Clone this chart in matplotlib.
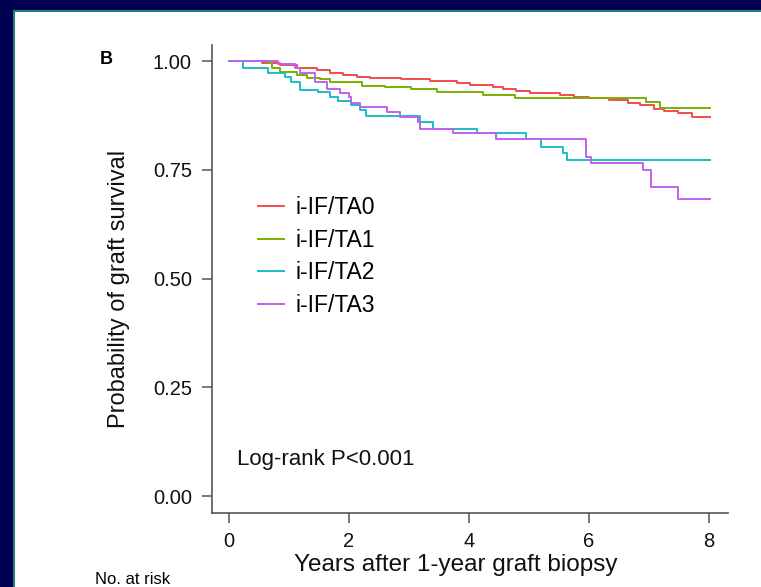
import matplotlib
matplotlib.use("Agg")
import matplotlib.pyplot as plt
from matplotlib.patches import Rectangle

# Kaplan-Meier step points (time in years, survival)
t_ta0 = [0, 0.55, 0.85, 1.13, 1.46, 1.68, 1.90, 2.13, 2.35, 2.86, 3.35, 3.80, 4.02, 4.41,
         4.57, 4.79, 5.02, 5.52, 5.75, 6.00, 6.33, 6.65, 6.85, 7.08, 7.25, 7.48, 7.72, 8.02]
s_ta0 = [1.000, 0.996, 0.991, 0.985, 0.979, 0.973, 0.968, 0.964, 0.962, 0.958, 0.955, 0.950,
         0.946, 0.941, 0.935, 0.931, 0.927, 0.922, 0.918, 0.915, 0.910, 0.904, 0.900, 0.891,
         0.885, 0.880, 0.872, 0.872]

t_ta1 = [0, 0.63, 0.71, 0.85, 1.13, 1.30, 1.52, 1.68, 2.21, 2.60, 3.04, 3.46, 4.24, 4.77,
         6.96, 7.18, 8.02]
s_ta1 = [1.000, 0.995, 0.983, 0.975, 0.968, 0.962, 0.958, 0.951, 0.943, 0.941, 0.935, 0.930,
         0.923, 0.916, 0.906, 0.893, 0.893]

t_ta2 = [0, 0.23, 0.65, 0.93, 1.03, 1.18, 1.49, 1.68, 1.82, 2.04, 2.18, 2.29, 3.18, 3.40,
         4.13, 4.96, 5.20, 5.57, 5.63, 8.02]
s_ta2 = [1.000, 0.983, 0.973, 0.964, 0.952, 0.933, 0.928, 0.918, 0.909, 0.899, 0.887, 0.874,
         0.860, 0.843, 0.835, 0.820, 0.803, 0.788, 0.772, 0.772]

t_ta3 = [0, 0.82, 1.10, 1.18, 1.43, 1.63, 1.85, 2.00, 2.04, 2.18, 2.63, 2.85, 3.15, 3.18,
         3.73, 4.46, 5.96, 6.04, 6.90, 7.04, 7.48, 8.02]
s_ta3 = [1.000, 0.993, 0.983, 0.972, 0.953, 0.935, 0.926, 0.918, 0.903, 0.895, 0.883, 0.872,
         0.860, 0.845, 0.834, 0.821, 0.780, 0.765, 0.749, 0.711, 0.684, 0.684]

labels = ["i-IF/TA0", "i-IF/TA1", "i-IF/TA2", "i-IF/TA3"]
colors = ["#F04E4E", "#7CAE00", "#1CBCC4", "#C060F0"]
x_ticks = [0, 2, 4, 6, 8]
y_ticks = [0.00, 0.25, 0.50, 0.75, 1.00]

plt.rcParams['font.family'] = ['Liberation Sans', 'DejaVu Sans']

fig = plt.figure(figsize=(7.61, 5.87), dpi=100, facecolor="#000050")

# white slide panel with thin teal edge (behind the axes)
panel = Rectangle((14 / 761, -0.01), 1.0, 1 - 11 / 587 + 0.01, transform=fig.transFigure,
                  facecolor="white", edgecolor="#1f8080", linewidth=1.5, zorder=-10)
fig.patches.append(panel)

ax = fig.add_axes([212 / 761, 1 - 513 / 587, 516 / 761, 468 / 587])
ax.set_facecolor("none")
ax.set_zorder(2)

series = [(t_ta0, s_ta0), (t_ta1, s_ta1), (t_ta2, s_ta2), (t_ta3, s_ta3)]
for (t, s), lab, col in zip(series, labels, colors):
    ax.step(t, s, where="post", color=col, lw=1.4, label=lab)

ax.set_xlim(-0.283, 8.32)
ax.set_ylim(-0.039, 1.037)
ax.set_xticks(x_ticks)
ax.set_xticklabels([str(v) for v in x_ticks])
ax.set_yticks(y_ticks)
ax.set_yticklabels([f"{v:.2f}" for v in y_ticks])

for side in ["top", "right"]:
    ax.spines[side].set_visible(False)
for side in ["left", "bottom"]:
    ax.spines[side].set_color("#555555")
    ax.spines[side].set_linewidth(1.2)

ax.tick_params(axis="both", labelsize=14.5, length=7.5, width=1.1, direction="out",
               colors="#555555", labelcolor="#111111")
ax.tick_params(axis="x", pad=6)
ax.tick_params(axis="y", pad=7)

ax.set_xlabel("Years after 1-year graft biopsy", fontsize=17.5, color="#111111")
ax.set_ylabel("Probability of graft survival", fontsize=17, color="#111111")
ax.xaxis.set_label_coords(0.473, -0.088)
ax.yaxis.set_label_coords(-0.158, 0.479)

leg = ax.legend(loc="upper left", bbox_to_anchor=(0.089, 0.677), frameon=False,
                fontsize=16.5, handlelength=1.15, handletextpad=0.5, labelspacing=0.42,
                borderpad=0, borderaxespad=0)

ax.text(0.13, 0.085, "Log-rank P<0.001", fontsize=16, va="center", ha="left", color="#111111")

fig.text(100 / 761, 1 - 60 / 587, "B", fontsize=13, fontweight="bold", va="center", ha="left")
fig.text(95 / 761, 1 - 584 / 587, "No. at risk", fontsize=12, va="baseline", ha="left")

fig.savefig("out.png", dpi=100, facecolor=fig.get_facecolor())
